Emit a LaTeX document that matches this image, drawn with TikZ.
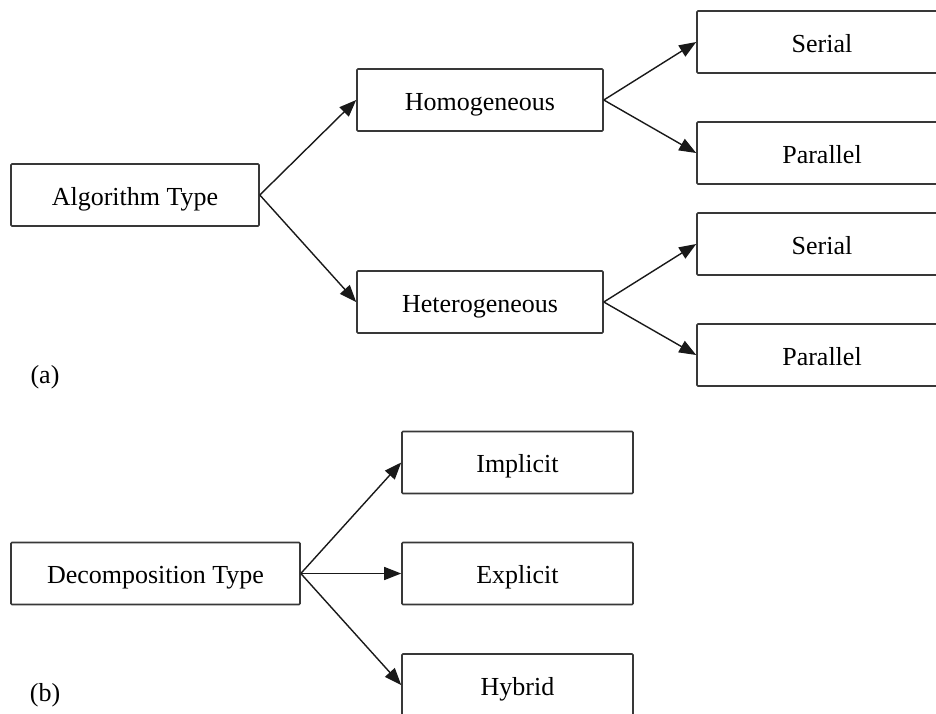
\documentclass[tikz,border=0pt]{standalone}
\usepackage{fontspec}
\setmainfont{Liberation Serif}
\usetikzlibrary{arrows.meta}
\begin{document}
\begin{tikzpicture}[x=1pt,y=-1pt,
  box/.style={draw=black!78, line width=1.6pt, rounded corners=1pt, fill=white,
    minimum height=62pt, inner sep=0pt, text height=24pt, text depth=4pt,
    font=\fontsize{26}{30}\selectfont},
  link/.style={draw=black!90, line width=1.4pt, -{Triangle[length=17pt,width=13pt]}},
  tag/.style={font=\fontsize{26}{30}\selectfont, inner sep=0pt}]
\useasboundingbox (0,0) rectangle (936,713);

% (a) algorithm type tree
\node[box, minimum width=248pt] (alg) at (135,195) {Algorithm Type};
\node[box, minimum width=246pt] (hom) at (480,100) {Homogeneous};
\node[box, minimum width=246pt] (het) at (480,302) {Heterogeneous};
\node[box, minimum width=250pt] (s1) at (822,42) {Serial};
\node[box, minimum width=250pt] (p1) at (822,153) {Parallel};
\node[box, minimum width=250pt] (s2) at (822,244) {Serial};
\node[box, minimum width=250pt] (p2) at (822,355) {Parallel};
\node[tag] (la) at (45,377) {(a)};

\draw[link] (alg.east) -- (hom.west);
\draw[link] (alg.east) -- (het.west);
\draw[link] (hom.east) -- (s1.west);
\draw[link] (hom.east) -- (p1.west);
\draw[link] (het.east) -- (s2.west);
\draw[link] (het.east) -- (p2.west);

% (b) decomposition type tree
\node[box, minimum width=289pt] (dec) at (155.5,573.5) {Decomposition Type};
\node[box, minimum width=231pt] (imp) at (517.5,462.5) {Implicit};
\node[box, minimum width=231pt] (exp) at (517.5,573.5) {Explicit};
\node[box, minimum width=231pt] (hyb) at (517.5,685) {Hybrid};
\node[tag] (lb) at (45,695) {(b)};

\draw[link] (dec.east) -- (imp.west);
\draw[link] (dec.east) -- (exp.west);
\draw[link] (dec.east) -- (hyb.west);
\end{tikzpicture}
\end{document}
